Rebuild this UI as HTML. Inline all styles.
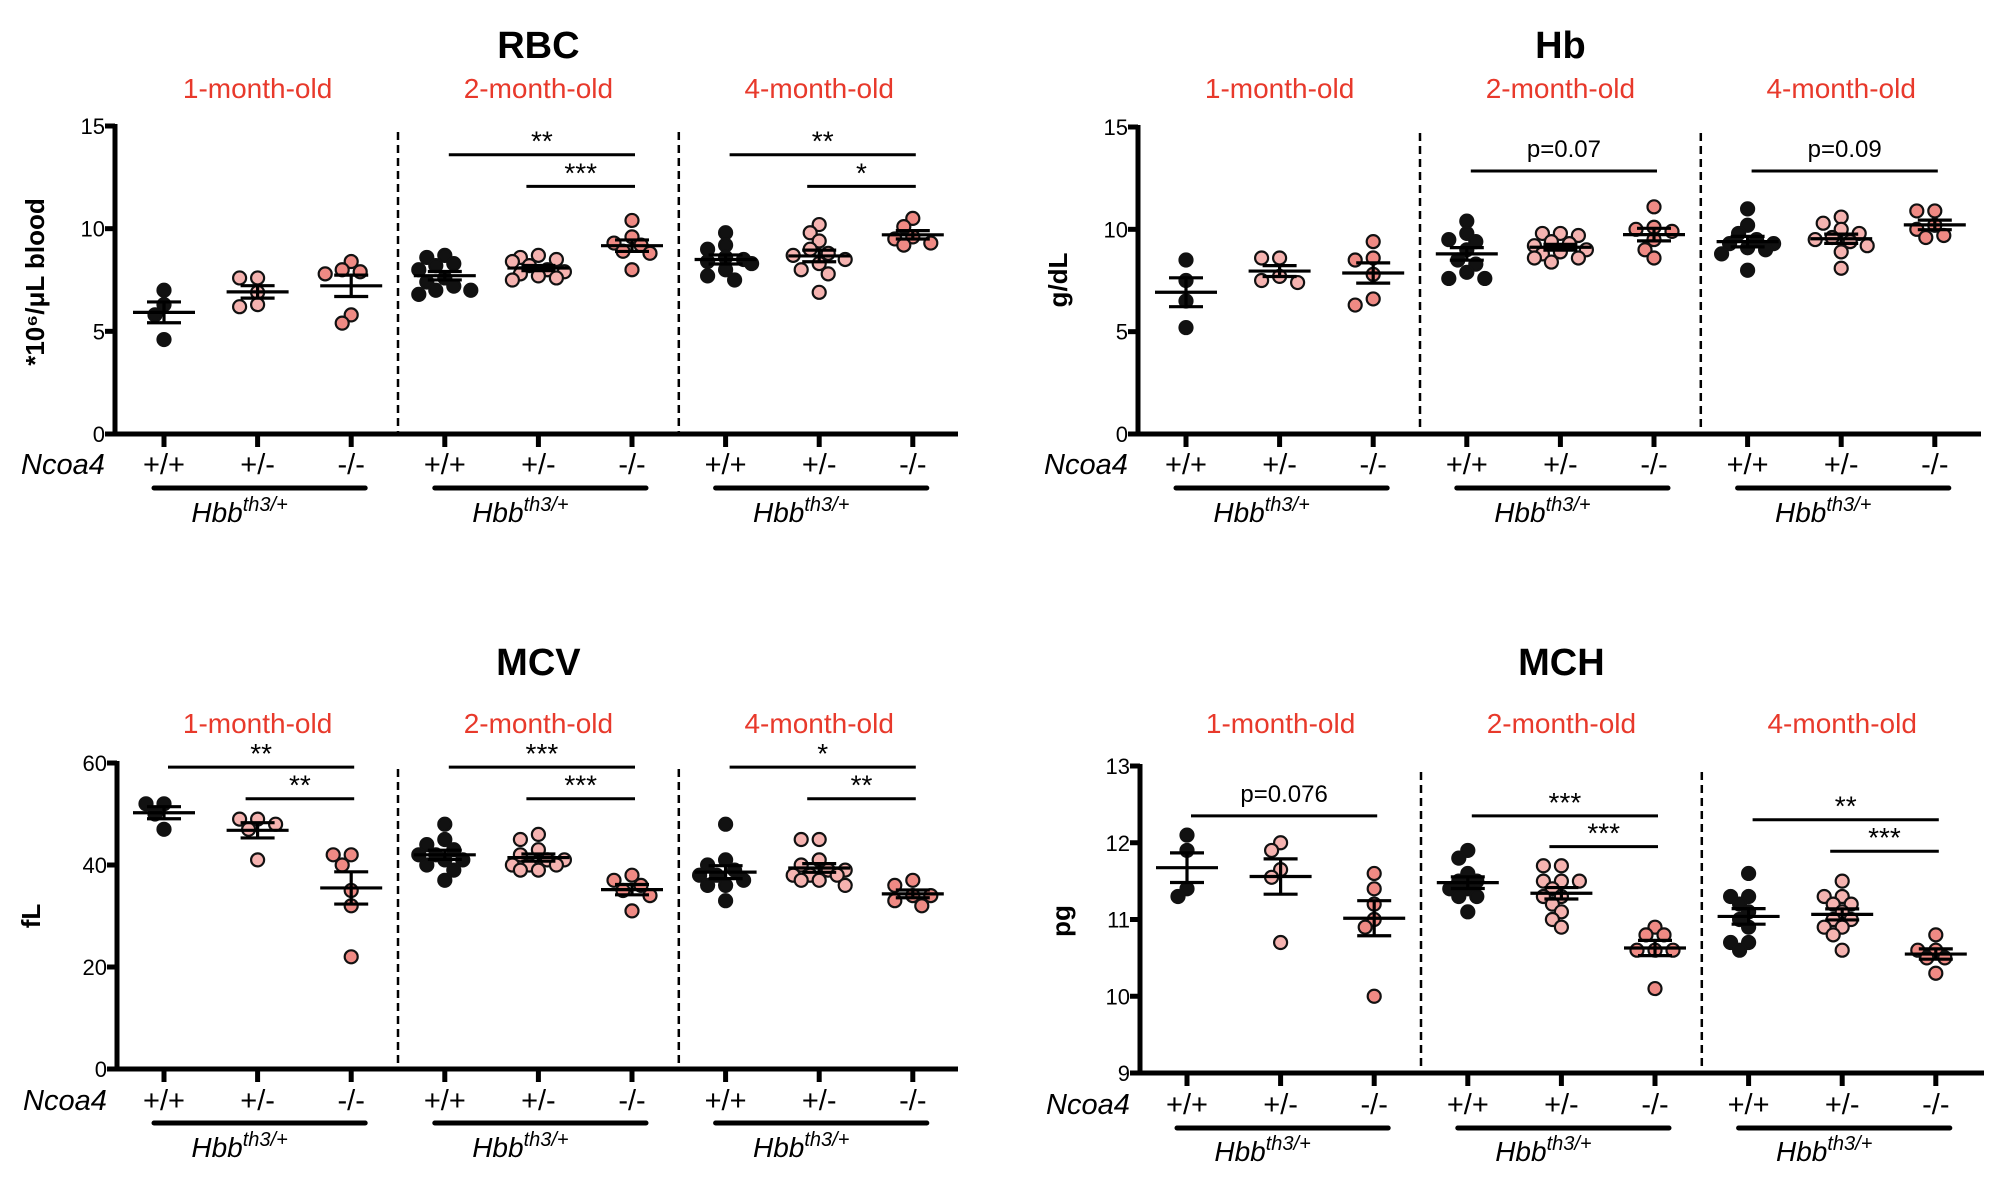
<!DOCTYPE html>
<html><head><meta charset="utf-8"><title>Blood parameters</title>
<style>
html,body{margin:0;padding:0;background:#fff;}
svg{display:block;font-family:"Liberation Sans",Arial,sans-serif;}
</style></head>
<body>
<svg id="fig" width="2000" height="1177" viewBox="0 0 2000 1177" xmlns="http://www.w3.org/2000/svg"></svg>
<script>
// ---- data ----
const ageLabels = ["1-month-old","2-month-old","4-month-old"];
const genotypeLabels = ["+/+","+/-","-/-"];
const panelTitles = ["RBC","Hb","MCV","MCH"];
const yAxisTitles = ["*10\u2076/\u03bcL blood","g/dL","fL","pg"];
const rbcTicks = [0,5,10,15];
const hbTicks = [0,5,10,15];
const mcvTicks = [0,20,40,60];
const mchTicks = [9,10,11,12,13];

const rbcValues = [
  [7.0,6.3,5.8,4.6],
  [7.6,7.6,6.9,6.3,6.2],
  [8.4,8.0,7.9,7.8,5.8,5.4],
  [8.7,8.6,8.3,8.2,8.0,7.6,7.4,7.2,7.0,7.0,6.8],
  [8.7,8.6,8.5,8.4,8.2,8.0,7.9,7.8,7.7,7.6,7.5],
  [10.4,9.6,9.3,9.2,8.9,8.8,8.0],
  [9.8,9.2,9.0,8.6,8.5,8.4,8.3,8.0,7.7,7.5],
  [10.2,9.8,9.4,9.0,8.8,8.7,8.5,8.3,8.0,7.8,6.9],
  [10.5,10.1,9.6,9.5,9.3,9.2]
];
const hbValues = [
  [8.5,7.5,6.5,5.2],
  [8.6,8.6,7.7,7.5,7.4],
  [9.4,8.6,8.5,7.8,6.6,6.3],
  [10.4,9.8,9.5,9.4,9.0,8.5,8.3,7.9,7.6,7.6],
  [9.8,9.8,9.7,9.4,9.3,9.2,9.0,8.9,8.8,8.6,8.6,8.4],
  [11.1,10.1,10.0,9.9,9.5,9.0,8.6],
  [11.0,10.2,9.8,9.5,9.3,9.3,9.1,9.0,8.8,8.0],
  [10.6,10.3,10.0,9.8,9.6,9.5,9.4,9.2,8.9,8.1],
  [10.9,10.9,10.2,10.0,9.7,9.6]
];
const mcvValues = [
  [52,52,50,47],
  [49,49,48,47,41],
  [42,42,40,35,32,22],
  [48,45,44,43,42,42,41,41,40,39,37],
  [46,45,43,42,41,41,40,40,40,39,39],
  [38,37,36,35,34,31],
  [48,41,40,39,38,38,37,36,36,33],
  [45,45,41,40,39,39,38,38,38,37,37,36],
  [37,36,34,34,33,32]
];
const mchValues = [
  [12.1,11.9,11.4,11.3],
  [12.0,11.9,11.65,11.55,10.7],
  [11.6,11.4,11.2,11.0,10.9,10.0],
  [11.9,11.8,11.6,11.5,11.5,11.4,11.4,11.3,11.3,11.1],
  [11.7,11.7,11.5,11.5,11.5,11.4,11.3,11.3,11.2,11.1,11.0,10.9],
  [10.9,10.8,10.8,10.6,10.6,10.6,10.1],
  [11.6,11.3,11.3,11.2,11.1,11.0,10.9,10.7,10.7,10.6],
  [11.5,11.3,11.3,11.2,11.2,11.1,11.0,11.0,10.9,10.9,10.8,10.6],
  [10.8,10.6,10.6,10.5,10.5,10.3]
];
// significance annotations: [fromGroup, toGroup, yValue, label, short]
const rbcSig = [[3,5,13.6,"**",0],[4,5,12.06,"***",1],[6,8,13.6,"**",0],[7,8,12.06,"*",1]];
const hbSig = [[3,5,12.85,"p=0.07",0],[6,8,12.85,"p=0.09",0]];
const mcvSig = [[0,2,59.2,"**",0],[1,2,53.0,"**",1],[3,5,59.2,"***",0],[4,5,53.0,"***",1],[6,8,59.2,"*",0],[7,8,53.0,"**",1]];
const mchSig = [[0,2,12.35,"p=0.076",0],[3,5,12.35,"***",0],[4,5,11.95,"***",1],[6,8,12.3,"**",0],[7,8,11.89,"***",1]];

// ---- layout ----
const panels = [
  {key:"rbc", vals:rbcValues, ticks:rbcTicks, sig:rbcSig, ax:115, xEnd:958, yTop:126, yBot:434, t0:164, titleY:58, redY:98, ncY:474, barY:488, hbbY:522, ytx:35, yty:282},
  {key:"hb", vals:hbValues, ticks:hbTicks, sig:hbSig, ax:1138, xEnd:1981, yTop:127, yBot:434, t0:1186, titleY:58, redY:98, ncY:474, barY:488, hbbY:522, ytx:1058, yty:280},
  {key:"mcv", vals:mcvValues, ticks:mcvTicks, sig:mcvSig, ax:117, xEnd:958, yTop:763, yBot:1069, t0:164, titleY:675, redY:733, ncY:1110, barY:1123, hbbY:1157, ytx:31, yty:916},
  {key:"mch", vals:mchValues, ticks:mchTicks, sig:mchSig, ax:1140, xEnd:1984, yTop:766, yBot:1073, t0:1187, titleY:675, redY:733, ncY:1114, barY:1128, hbbY:1161, ytx:1061, yty:921}
];
const STEP = 93.6, R = 7.5;
const svg = document.getElementById('fig');
const NS = "http://www.w3.org/2000/svg";
function mk(tag, attrs, parent){
  const e = document.createElementNS(NS, tag);
  for (const k in attrs) e.setAttribute(k, attrs[k]);
  (parent||svg).appendChild(e);
  return e;
}
function txt(parent, x, y, s, size, opts){
  const t = mk('text', {x:x, y:y, 'font-size':size, 'text-anchor':(opts&&opts.anchor)||'middle', fill:(opts&&opts.fill)||'#000'}, parent);
  if (opts && opts.weight) t.setAttribute('font-weight', opts.weight);
  if (opts && opts.italic) t.setAttribute('font-style', 'italic');
  t.textContent = s;
  return t;
}

panels.forEach((p, pi) => {
  const g = mk('g', {});
  
  
  const ymin = p.ticks[0], ymax = p.ticks[p.ticks.length-1];
  const yS = v => p.yBot - (v - ymin) / (ymax - ymin) * (p.yBot - p.yTop);
  const xS = i => p.t0 + i * STEP;

  const ti = txt(g, xS(4), p.titleY, panelTitles[pi], 38, {weight:'bold'});
  
  
  ageLabels.forEach((a, ai) => {
    const t = txt(g, xS(ai*3+1), p.redY, a, 28, {fill:'#e8392b'});
    
    
  });
  const yt = mk('text', {x:0, y:0, 'font-size':26, 'font-weight':'bold', 'text-anchor':'middle', transform:`translate(${p.ytx+9},${p.yty}) rotate(-90)`}, g);
  yt.textContent = yAxisTitles[pi];
  
  
  const axes = mk('g', {stroke:'#000', 'stroke-width':5, fill:'none'}, g);
  
  
  mk('line', {x1:p.ax, y1:p.yTop-2, x2:p.ax, y2:p.yBot+2}, axes);
  mk('line', {x1:p.ax-10, y1:p.yBot, x2:p.xEnd, y2:p.yBot}, axes);
  p.ticks.forEach(v => {
    mk('line', {x1:p.ax-10, y1:yS(v), x2:p.ax, y2:yS(v)}, axes);
    const t = txt(g, p.ax-10, yS(v)+8, String(v), 22, {anchor:'end'});
    
    
  });
  for (let i = 0; i < 9; i++) mk('line', {x1:xS(i), y1:p.yBot, x2:xS(i), y2:p.yBot+13}, axes);
  [1,2].forEach(k => {
    const dx = (xS(k*3-1) + xS(k*3)) / 2;
    const d = mk('line', {x1:dx, y1:p.yTop+6, x2:dx, y2:p.yBot, stroke:'#000', 'stroke-width':2.5, 'stroke-dasharray':'8,5'}, g);
    
    
  });
  const nc = txt(g, p.ax-94, p.ncY, 'Ncoa4', 29, {anchor:'start', italic:true});
  
  
  for (let i = 0; i < 9; i++) {
    const t = txt(g, xS(i), p.ncY, genotypeLabels[i%3], 29);
    
    
  }
  for (let k = 0; k < 3; k++) {
    const b = mk('line', {x1:xS(k*3)-10, y1:p.barY, x2:xS(k*3+2)+14, y2:p.barY, stroke:'#000', 'stroke-width':5, 'stroke-linecap':'round'}, g);
    
    
    const h = mk('text', {x:xS(k*3+1)-18, y:p.hbbY, 'font-size':28, 'font-style':'italic', 'text-anchor':'middle'}, g);
    
    
    h.appendChild(document.createTextNode('Hbb'));
    const sup = mk('tspan', {dy:-11, 'font-size':20}, h);
    sup.textContent = 'th3/+';
  }
  p.vals.forEach((arr, gi) => {
    const cx = xS(gi);
    const gg = mk('g', {}, g);
    
    
    const fill = gi%3===0 ? '#111' : (gi%3===1 ? '#f5b3b0' : '#ef8a84');
    // compact beeswarm (overlap allowed, width capped)
    const placed = [];
    const sorted = arr.slice().sort((a,b)=>b-a);
    const cands = [0, -9, 9, -18, 18, -26, 26];
    sorted.forEach(v => {
      const py = yS(v);
      let best = 0, bestScore = Infinity;
      for (const c of cands) {
        let score = 0;
        placed.forEach(q => { const d = Math.hypot(q[0]-c, q[1]-py); if (d < 2*R*0.8) score += (2*R*0.8 - d); });
        score += Math.abs(c) * 0.01;
        if (score < bestScore - 1e-9) { bestScore = score; best = c; }
        if (score < 0.5) break;
      }
      placed.push([best, py]);
    });
    const n = arr.length;
    const mean = arr.reduce((a,b)=>a+b,0)/n;
    const sd = Math.sqrt(arr.reduce((a,b)=>a+(b-mean)*(b-mean),0)/(n-1));
    const sem = sd/Math.sqrt(n);
    placed.forEach(q => {
      const c = mk('circle', {cx:cx+q[0], cy:q[1], r:R-1, fill:fill, stroke:'#111', 'stroke-width':2.2}, gg);
      
      
    });
    const st = mk('g', {stroke:'#000', 'stroke-width':3.2}, gg);
    
    
    mk('line', {x1:cx-31, y1:yS(mean), x2:cx+31, y2:yS(mean)}, st);
    mk('line', {x1:cx, y1:yS(mean+sem), x2:cx, y2:yS(mean-sem)}, st);
    mk('line', {x1:cx-17, y1:yS(mean+sem), x2:cx+17, y2:yS(mean+sem)}, st);
    mk('line', {x1:cx-17, y1:yS(mean-sem), x2:cx+17, y2:yS(mean-sem)}, st);
  });
  p.sig.forEach(s => {
    const x1 = xS(s[0]) + (s[4] ? -12 : 4), x2 = xS(s[1]) + 3, y = yS(s[2]);
    const sg = mk('g', {}, g);
    
    
    mk('line', {x1:x1, y1:y, x2:x2, y2:y, stroke:'#000', 'stroke-width':3}, sg);
    const isP = s[3].charAt(0) === 'p';
    txt(sg, (x1+x2)/2, isP ? y-14 : y-4, s[3], isP ? 24 : 28);
  });
});
</script>
</body></html>
